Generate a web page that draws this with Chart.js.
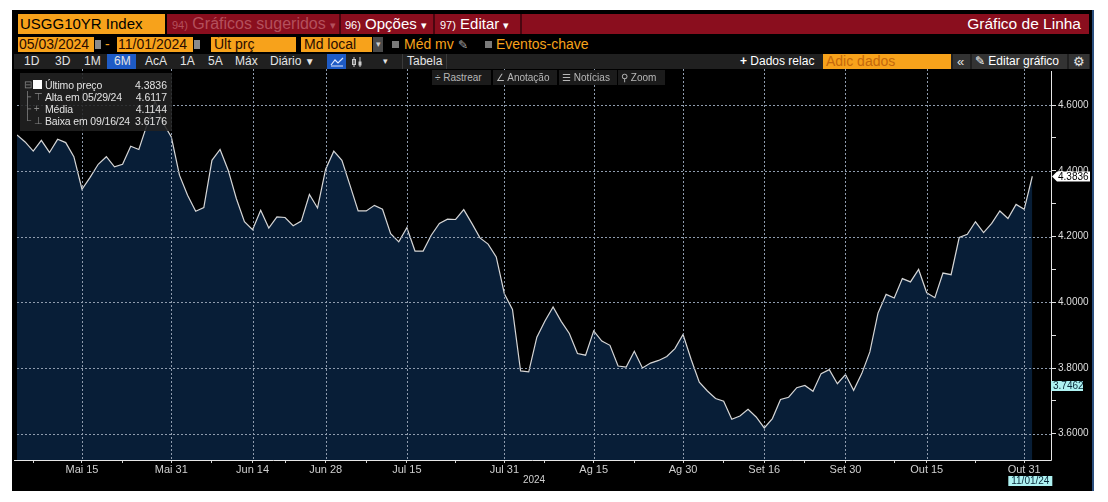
<!DOCTYPE html>
<html>
<head>
<meta charset="utf-8">
<script src="https://cdn.jsdelivr.net/npm/chart.js@4.4.1/dist/chart.umd.min.js"></script>
<style>
  body { margin: 0; background: #fff; width: 1108px; height: 502px; overflow: hidden;
         font-family: "Liberation Sans", Arial, sans-serif; }
  .a { position: absolute; white-space: nowrap; }
  #panel { left: 12px; top: 10px; width: 1080px; height: 481px; background: #000; border-right: 2px solid #2b4f7e; }
  .org { background: #f7a21b; color: #2a0c00; }
  .red { background: #8a0e1e; }
  .sep { width: 2px; background: #4a0610; top: 14px; height: 20px; }
  .n { font-size: 11px; }
  .r3 { top: 54px; height: 15px; line-height: 15px; font-size: 12px; color: #e4e4e4; }
  .tb { top: 70px; height: 15px; line-height: 15px; font-size: 10px; color: #b8b8b8; background: #1b1b1b; z-index: 3; }
  #legend { left: 20px; top: 73px; width: 152px; height: 58px; background: rgba(34,34,34,0.88); z-index: 3;
            font-size: 10.5px; color: #e2e2e2; }
  #legend div { position: absolute; left: 0; width: 147px; height: 12px; line-height: 12px; }
  #legend .v { position: absolute; right: 0; }
  #legend .ic { position: absolute; left: 4px; color: #888; font-size: 10px; }
  #legend .t { position: absolute; left: 25px; letter-spacing: -0.15px; }
  #c { position: absolute; left: 12px; top: 69px; z-index: 2; }
</style>
</head>
<body>
<div id="panel" class="a"></div>

<!-- row 1 -->
<div class="a org" style="left:18px;top:14px;width:145px;height:20px;line-height:20px;font-size:15px;color:#000;padding-left:2px;">USGG10YR Index</div>
<div class="a red" style="left:167px;top:14px;width:922px;height:20px;"></div>
<div class="a" style="left:172px;top:14px;line-height:20px;font-size:16px;color:#b4505c;"><span class="n">94)</span> Gráficos sugeridos <span class="n">▾</span></div>
<div class="a sep" style="left:339px;"></div>
<div class="a" style="left:345px;top:14px;line-height:20px;font-size:15px;color:#fff;"><span class="n">96)</span> Opções <span class="n">▾</span></div>
<div class="a sep" style="left:433px;"></div>
<div class="a" style="left:440px;top:14px;line-height:20px;font-size:15px;color:#fff;"><span class="n">97)</span> Editar <span class="n">▾</span></div>
<div class="a sep" style="left:520px;"></div>
<div class="a" style="right:27px;top:14px;line-height:20px;font-size:15.5px;color:#fff;">Gráfico de Linha</div>

<!-- row 2 -->
<div class="a org" style="left:18px;top:37px;width:75px;height:15px;line-height:15px;font-size:14px;padding-left:1px;">05/03/2024</div>
<div class="a" style="left:95px;top:40px;width:6px;height:9px;background:#8a8a8a;"></div>
<div class="a" style="left:105px;top:37px;line-height:15px;font-size:14px;color:#f7a21b;">-</div>
<div class="a org" style="left:117px;top:37px;width:75px;height:15px;line-height:15px;font-size:14px;padding-left:1px;">11/01/2024</div>
<div class="a" style="left:194px;top:40px;width:6px;height:9px;background:#8a8a8a;"></div>
<div class="a org" style="left:211px;top:37px;width:82px;height:15px;line-height:15px;font-size:14px;padding-left:3px;">Últ prç</div>
<div class="a org" style="left:301px;top:37px;width:68px;height:15px;line-height:15px;font-size:14px;padding-left:3px;">Md local</div>
<div class="a" style="left:373px;top:37px;width:10px;height:15px;line-height:15px;background:#4a4a4a;color:#ccc;font-size:9px;text-align:center;">▾</div>
<div class="a" style="left:392px;top:41px;width:7px;height:7px;background:#7a7a7a;"></div>
<div class="a" style="left:404px;top:37px;line-height:15px;font-size:14px;color:#f7a21b;">Méd mv <span style="color:#aaa;font-size:12px;">✎</span></div>
<div class="a" style="left:485px;top:41px;width:7px;height:7px;background:#7a7a7a;"></div>
<div class="a" style="left:496px;top:37px;line-height:15px;font-size:14px;color:#f7a21b;">Eventos-chave</div>

<!-- row 3 -->
<div class="a" style="left:14px;top:54px;width:1076px;height:15px;background:#202020;"></div>
<div class="a" style="left:107px;top:54px;width:29px;height:15px;background:#1e5bc6;"></div>
<div class="a" style="left:327px;top:54px;width:19px;height:15px;background:#1e5bc6;"></div>
<div class="a r3" style="left:24px;">1D</div>
<div class="a r3" style="left:55px;">3D</div>
<div class="a r3" style="left:84px;">1M</div>
<div class="a r3" style="left:114px;">6M</div>
<div class="a r3" style="left:145px;">AcA</div>
<div class="a r3" style="left:180px;">1A</div>
<div class="a r3" style="left:208px;">5A</div>
<div class="a r3" style="left:235px;">Máx</div>
<div class="a r3" style="left:270px;">Diário <span style="font-size:10px;">▼</span></div>
<svg class="a" style="left:330px;top:56px;" width="14" height="11"><polyline points="1,9 5,4 8,7 13,2" fill="none" stroke="#dfe8ff" stroke-width="1.2"/><line x1="1" y1="10" x2="13" y2="10" stroke="#dfe8ff"/></svg>
<svg class="a" style="left:351px;top:56px;" width="12" height="12"><line x1="3" y1="1" x2="3" y2="11" stroke="#ccc"/><rect x="1.5" y="3.5" width="3" height="5" fill="none" stroke="#ccc"/><line x1="9" y1="1" x2="9" y2="11" stroke="#ccc"/><rect x="7.5" y="5.5" width="3" height="4" fill="#ccc"/></svg>
<div class="a r3" style="left:383px;font-size:9px;">▾</div>
<div class="a" style="left:402px;top:54px;width:1px;height:15px;background:#3a3a3a;"></div>
<div class="a r3" style="left:407px;">Tabela</div>
<div class="a" style="left:446px;top:54px;width:1px;height:15px;background:#3a3a3a;"></div>
<div class="a r3" style="left:740px;color:#fff;"><b>+</b> Dados relac</div>
<div class="a org" style="left:823px;top:54px;width:125px;height:15px;line-height:15px;font-size:14px;color:#c4680c;padding-left:3px;">Adic dados</div>
<div class="a" style="left:953px;top:54px;width:17px;height:15px;background:#333;"></div>
<div class="a r3" style="left:957px;font-size:13px;">«</div>
<div class="a" style="left:972px;top:54px;width:95px;height:15px;background:#333;"></div>
<div class="a r3" style="left:975px;color:#fff;">✎ Editar gráfico</div>
<div class="a" style="left:1069px;top:54px;width:20px;height:15px;background:#333;"></div>
<div class="a r3" style="left:1073px;font-size:13px;">⚙</div>

<!-- chart toolbar -->
<div class="a tb" style="left:432px;width:56px;padding-left:3px;">÷ Rastrear</div>
<div class="a tb" style="left:493px;width:61px;padding-left:3px;">∠ Anotação</div>
<div class="a tb" style="left:559px;width:55px;padding-left:3px;">☰ Notícias</div>
<div class="a tb" style="left:618px;width:44px;padding-left:3px;">⚲ Zoom</div>

<div id="legend" class="a"></div>

<canvas id="c" width="1080" height="422" style="width:1080px;height:422px;"></canvas>

<script>
// trading days shown on the chart (2024)
const dates = [
  '05/03','05/06','05/07','05/08','05/09','05/10','05/13','05/14','05/15','05/16','05/17','05/20','05/21','05/22','05/23','05/24','05/28','05/29','05/30','05/31',
  '06/03','06/04','06/05','06/06','06/07','06/10','06/11','06/12','06/13','06/14','06/17','06/18','06/20','06/21','06/24','06/25','06/26','06/27','06/28',
  '07/01','07/02','07/03','07/05','07/08','07/09','07/10','07/11','07/12','07/15','07/16','07/17','07/18','07/19','07/22','07/23','07/24','07/25','07/26','07/29','07/30','07/31',
  '08/01','08/02','08/05','08/06','08/07','08/08','08/09','08/12','08/13','08/14','08/15','08/16','08/19','08/20','08/21','08/22','08/23','08/26','08/27','08/28','08/29','08/30',
  '09/03','09/04','09/05','09/06','09/09','09/10','09/11','09/12','09/13','09/16','09/17','09/18','09/19','09/20','09/23','09/24','09/25','09/26','09/27','09/30',
  '10/01','10/02','10/03','10/04','10/07','10/08','10/09','10/10','10/11','10/15','10/16','10/17','10/18','10/21','10/22','10/23','10/24','10/25','10/28','10/29','10/30','10/31',
  '11/01'
];

// USGG10YR last price
const yields = [
  4.509, 4.488, 4.460, 4.493, 4.456, 4.496, 4.486, 4.443, 4.344, 4.380, 4.420, 4.443, 4.412, 4.420, 4.475, 4.465, 4.540, 4.6117, 4.545, 4.503,
  4.387, 4.326, 4.277, 4.288, 4.432, 4.465, 4.402, 4.316, 4.245, 4.221, 4.280, 4.226, 4.260, 4.258, 4.233, 4.247, 4.328, 4.287, 4.405,
  4.460, 4.432, 4.356, 4.278, 4.278, 4.295, 4.283, 4.209, 4.184, 4.227, 4.156, 4.156, 4.204, 4.240, 4.253, 4.252, 4.282, 4.240, 4.196, 4.177, 4.138, 4.026,
  3.978, 3.791, 3.788, 3.894, 3.943, 3.986, 3.942, 3.905, 3.844, 3.839, 3.913, 3.882, 3.869, 3.806, 3.803, 3.851, 3.800, 3.815, 3.823, 3.835, 3.859, 3.902,
  3.826, 3.757, 3.730, 3.707, 3.699, 3.644, 3.654, 3.674, 3.651, 3.6176, 3.646, 3.704, 3.711, 3.740, 3.747, 3.729, 3.783, 3.795, 3.752, 3.780,
  3.732, 3.783, 3.849, 3.967, 4.024, 4.013, 4.072, 4.062, 4.100, 4.029, 4.014, 4.089, 4.084, 4.197, 4.207, 4.245, 4.212, 4.240, 4.278, 4.255, 4.298, 4.283,
  4.3836
];

const xTickDates = ['05/15','05/31','06/14','06/28','07/15','07/31','08/15','08/30','09/16','09/30','10/15','10/31'];
const xTickText  = ['Mai 15','Mai 31','Jun 14','Jun 28','Jul 15','Jul 31','Ag 15','Ag 30','Set 16','Set 30','Out 15','Out 31'];
const xMinorDates = ['05/07','05/22','06/07','06/21','07/08','07/23','08/07','08/22','09/09','09/23','10/08','10/23'];
const yTicks = [3.6, 3.7, 3.8, 3.9, 4.0, 4.1, 4.2, 4.3, 4.4, 4.5, 4.6];
const yGrid = [3.6, 3.8, 4.0, 4.2, 4.4, 4.6];

const statIcons  = ['⊟', '├ ⊤', '├ +', '└ ⊥'];
const statLabels = ['Último preço', 'Alta em 05/29/24', 'Média', 'Baixa em 09/16/24'];
const statValues = ['4.3836', '4.6117', '4.1144', '3.6176'];
const markerValue = 3.7462;
const lastDateLabel = '11/01/24';

// legend overlay
const lg = document.getElementById('legend');
statLabels.forEach((s, i) => {
  const row = document.createElement('div');
  row.style.top = (6 + i * 12) + 'px';
  row.innerHTML = '<span class="ic">' + statIcons[i] + '</span>' +
    (i === 0 ? '<span style="position:absolute;left:13px;top:1px;width:9px;height:9px;background:#fff;"></span>' : '') +
    '<span class="t">' + s + '</span><span class="v">' + statValues[i] + '</span>';
  lg.appendChild(row);
});

const majorX = xTickDates.map(d => dates.indexOf(d));
const minorX = xMinorDates.map(d => dates.indexOf(d));
const GRID = '#8f9cae';
const FONT = '"Liberation Sans", Arial, sans-serif';

const overlay = {
  id: 'overlay',
  afterDatasetsDraw(chart) {
    // dotted grid on top of the filled area
    const { ctx, chartArea: a, scales: { x, y } } = chart;
    ctx.save();
    ctx.strokeStyle = GRID;
    ctx.lineWidth = 1;
    ctx.setLineDash([2, 2]);
    ctx.beginPath();
    yGrid.forEach(v => {
      const py = Math.round(y.getPixelForValue(v)) + 0.5;
      ctx.moveTo(a.left, py);
      ctx.lineTo(a.right, py);
    });
    majorX.forEach(v => {
      const px = Math.round(x.getPixelForValue(v)) + 0.5;
      ctx.moveTo(px, a.top);
      ctx.lineTo(px, a.bottom);
    });
    ctx.stroke();
    ctx.restore();
  },
  afterDraw(chart) {
    const { ctx, chartArea: a, scales: { x, y } } = chart;
    ctx.save();
    ctx.strokeStyle = '#e6e6e6';
    ctx.lineWidth = 1;
    ctx.beginPath();
    ctx.moveTo(a.left - 3, a.bottom + 0.5);
    ctx.lineTo(a.right + 0.5, a.bottom + 0.5);
    ctx.moveTo(a.right + 0.5, a.top + 2);
    ctx.lineTo(a.right + 0.5, a.bottom + 0.5);
    ctx.stroke();

    ctx.font = '10px ' + FONT;
    ctx.textBaseline = 'middle';

    // last price flag
    const last = yields[yields.length - 1];
    const py = Math.round(y.getPixelForValue(last)) + 0.5;
    const r = a.right + 1;
    ctx.fillStyle = '#ffffff';
    ctx.beginPath();
    ctx.moveTo(r, py);
    ctx.lineTo(r + 5, py - 5);
    ctx.lineTo(r + 38, py - 5);
    ctx.lineTo(r + 38, py + 5);
    ctx.lineTo(r + 5, py + 5);
    ctx.closePath();
    ctx.fill();
    ctx.fillStyle = '#000';
    ctx.textAlign = 'left';
    ctx.fillText(last.toFixed(4), r + 6, py + 0.5);

    // cyan marker value
    const my = Math.round(y.getPixelForValue(markerValue));
    ctx.fillStyle = '#aef2f2';
    ctx.fillRect(r - 1, my - 5, 32, 10);
    ctx.fillStyle = '#0a2a3a';
    ctx.fillText(markerValue.toFixed(4), r + 1, my + 0.5);

    // last date flag
    const lx = x.getPixelForValue(yields.length - 1);
    ctx.fillStyle = '#aef2f2';
    ctx.fillRect(lx - 24, 407, 44, 10);
    ctx.fillStyle = '#0a2a3a';
    ctx.textAlign = 'center';
    ctx.fillText(lastDateLabel, lx - 2, 412.5);
    ctx.restore();
  }
};

new Chart(document.getElementById('c'), {
  type: 'line',
  data: {
    datasets: [{
      data: yields.map((v, i) => ({ x: i, y: v })),
      borderColor: '#d6d6d6',
      borderWidth: 1.2,
      backgroundColor: '#081e37',
      fill: 'start',
      pointRadius: 0,
      tension: 0
    }]
  },
  options: {
    responsive: false,
    animation: false,
    events: [],
    layout: { padding: { left: 5, right: 0, top: 0, bottom: 0 } },
    plugins: { legend: { display: false }, tooltip: { enabled: false } },
    scales: {
      x: {
        type: 'linear',
        min: 0,
        max: 127.3,
        afterBuildTicks: s => { s.ticks = majorX.concat(minorX).sort((p, q) => p - q).map(v => ({ value: v })); },
        afterFit: s => { s.height = 31; s.paddingLeft = 0; s.paddingRight = 0; },
        ticks: {
          autoSkip: false, maxRotation: 0, padding: 0, color: '#cfcfcf',
          font: { family: FONT, size: 11 },
          callback: v => { const k = majorX.indexOf(v); return k >= 0 ? xTickText[k] : ''; }
        },
        grid: { drawOnChartArea: false, tickColor: '#cfcfcf', tickLength: 3 },
        border: { display: false },
        title: { display: true, text: '2024', color: '#cfcfcf', font: { family: FONT, size: 10 }, padding: { top: 0, bottom: 5 } }
      },
      y: {
        position: 'right',
        min: 3.52,
        max: 4.71,
        afterBuildTicks: s => { s.ticks = yTicks.map(v => ({ value: v })); },
        afterFit: s => { s.width = 41; s.paddingTop = 0; s.paddingBottom = 0; },
        ticks: {
          padding: 2, color: '#dedede',
          font: { family: FONT, size: 10 },
          callback: v => (yGrid.includes(v) ? v.toFixed(4) : '')
        },
        grid: { drawOnChartArea: false, tickColor: '#dedede', tickLength: 5 },
        border: { display: false }
      }
    }
  },
  plugins: [overlay]
});
</script>
</body>
</html>
